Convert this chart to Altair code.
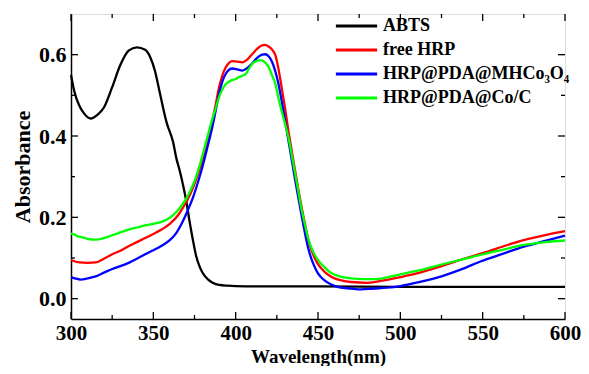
import altair as alt
import pandas as pd

# ---------------- data ----------------
abts_wl = [300, 302, 305, 308, 312, 316, 320, 325, 330, 335, 340, 345, 348, 351, 354,
           358, 362, 364, 366, 368, 370, 372, 374, 376, 378, 380, 383, 386, 390, 395,
           400, 420, 450, 500, 550, 600]
abts_a = [0.55, 0.51, 0.475, 0.455, 0.443, 0.452, 0.47, 0.52, 0.575, 0.61, 0.618, 0.612,
          0.595, 0.56, 0.505, 0.434, 0.385, 0.345, 0.315, 0.28, 0.24, 0.19, 0.145, 0.105,
          0.08, 0.063, 0.048, 0.039, 0.034, 0.032, 0.031, 0.03, 0.03, 0.029, 0.029, 0.029]

hrp_wl = [300, 305, 310, 315, 320, 325, 330, 335, 340, 345, 350, 355, 360, 365, 368, 371,
          374, 377, 380, 383, 386, 388, 390, 392, 394, 396, 398, 401, 404, 407, 410, 413,
          416, 418, 420, 422, 424, 426, 428, 430, 432, 434, 436, 438, 440, 442, 444, 446,
          448, 450, 454, 458, 463, 470, 480, 490, 500, 510, 525, 540, 550, 565, 575, 590, 600]
hrp_a = [0.095, 0.089, 0.088, 0.089, 0.098, 0.109, 0.118, 0.129, 0.139, 0.149, 0.159, 0.17,
         0.184, 0.205, 0.224, 0.245, 0.272, 0.305, 0.343, 0.39, 0.441, 0.48, 0.521, 0.55,
         0.569, 0.58, 0.584, 0.583, 0.581, 0.588, 0.601, 0.614, 0.623, 0.624, 0.62, 0.613,
         0.6, 0.565, 0.517, 0.468, 0.413, 0.365, 0.317, 0.27, 0.226, 0.185, 0.148, 0.12,
         0.1, 0.085, 0.066, 0.054, 0.046, 0.041, 0.039, 0.045, 0.053, 0.062, 0.08, 0.1,
         0.112, 0.132, 0.144, 0.158, 0.166]

mh_wl = [300, 303, 306, 310, 315, 320, 325, 330, 335, 340, 345, 350, 355, 360, 364, 368,
         371, 374, 377, 380, 383, 386, 388, 390, 392, 394, 396, 398, 401, 404, 407, 410,
         413, 416, 418, 420, 422, 424, 426, 428, 430, 432, 434, 436, 438, 440, 442, 444,
         446, 448, 450, 454, 458, 463, 470, 476, 484, 492, 500, 512, 525, 537, 549, 562,
         575, 588, 600]
mh_a = [0.053, 0.049, 0.047, 0.05, 0.055, 0.064, 0.073, 0.08, 0.088, 0.098, 0.109, 0.119,
        0.13, 0.144, 0.162, 0.191, 0.218, 0.248, 0.285, 0.327, 0.375, 0.425, 0.465, 0.505,
        0.535, 0.553, 0.563, 0.566, 0.564, 0.561, 0.567, 0.578, 0.592, 0.6, 0.601, 0.596,
        0.583, 0.56, 0.528, 0.485, 0.438, 0.39, 0.343, 0.295, 0.25, 0.205, 0.163, 0.125,
        0.098, 0.078, 0.062, 0.045, 0.035, 0.028, 0.025, 0.023, 0.025, 0.027, 0.031,
        0.041, 0.055, 0.072, 0.092, 0.11, 0.128, 0.142, 0.155]

coc_wl = [300, 302, 304, 307, 310, 315, 320, 325, 330, 335, 340, 345, 350, 355, 358, 361,
          364, 367, 370, 373, 376, 379, 382, 385, 388, 390, 392, 394, 396, 398, 400, 402,
          404, 406, 408, 410, 412, 414, 416, 418, 420, 422, 424, 426, 428, 430, 432, 434,
          436, 438, 440, 442, 444, 446, 448, 450, 454, 458, 463, 470, 478, 485, 500, 512,
          525, 537, 549, 562, 575, 588, 600]
coc_a = [0.16, 0.158, 0.153, 0.151, 0.147, 0.145, 0.149, 0.156, 0.163, 0.17, 0.175, 0.18,
         0.184, 0.189, 0.194, 0.202, 0.213, 0.228, 0.246, 0.27, 0.3, 0.34, 0.385, 0.43,
         0.47, 0.497, 0.515, 0.528, 0.534, 0.538, 0.54, 0.545, 0.548, 0.552, 0.565, 0.577,
         0.583, 0.586, 0.586, 0.58, 0.57, 0.55, 0.53, 0.493, 0.46, 0.43, 0.397, 0.355,
         0.31, 0.265, 0.22, 0.183, 0.148, 0.125, 0.108, 0.095, 0.077, 0.063, 0.055, 0.05,
         0.048, 0.048, 0.06, 0.07, 0.084, 0.096, 0.108, 0.12, 0.132, 0.139, 0.143]

series_names = ["ABTS", "free HRP", "HRP@PDA@MHCo\u2083O\u2084", "HRP@PDA@Co/C"]
series_colors = ["#000000", "#ff0000", "#0000ff", "#00ff00"]

x_major = [300, 350, 400, 450, 500, 550, 600]
x_minor = [325, 375, 425, 475, 525, 575]
y_major = [0.0, 0.2, 0.4, 0.6]
y_minor = [0.1, 0.3, 0.5]

# ---------------- assemble ----------------
frames = []
for name, wl, a in zip(series_names, [abts_wl, hrp_wl, mh_wl, coc_wl],
                       [abts_a, hrp_a, mh_a, coc_a]):
    frames.append(pd.DataFrame({"wl": wl, "A": a, "series": name}))
df = pd.concat(frames, ignore_index=True)

FONT = "Liberation Serif"

xscale = alt.Scale(domain=[300, 600], nice=False, zero=False)
yscale = alt.Scale(domain=[-0.05, 0.7], nice=False, zero=False)

xaxis = alt.Axis(values=x_major, title="Wavelength(nm)", tickSize=0, grid=False,
                 labelFont=FONT, labelFontSize=21, labelFontWeight="bold",
                 labelColor="black", labelPadding=3, titleFont=FONT, titleFontSize=19,
                 titleFontWeight="bold", titleColor="black", titlePadding=4,
                 domainColor="black", domainWidth=1.5, labelFlush=False)
yaxis = alt.Axis(values=y_major, format=".1f", title="Absorbance", tickSize=0, grid=False,
                 labelFont=FONT, labelFontSize=22, labelFontWeight="bold",
                 labelColor="black", labelPadding=5, titleFont=FONT, titleFontSize=22,
                 titleFontWeight="bold", titleColor="black", titlePadding=4,
                 domainColor="black", domainWidth=1.5, labelFlush=False)

X = alt.X("wl:Q", scale=xscale, axis=xaxis)
Y = alt.Y("A:Q", scale=yscale, axis=yaxis)

lines = alt.Chart(df).mark_line(strokeWidth=2.3, interpolate="monotone").encode(
    x=X, y=Y,
    color=alt.Color("series:N",
                    scale=alt.Scale(domain=series_names, range=series_colors),
                    sort=series_names,
                    legend=alt.Legend(orient="none", legendX=263, legendY=0, title=None,
                                      symbolType="stroke", symbolSize=1700,
                                      symbolStrokeWidth=3, clipHeight=24, rowPadding=0,
                                      labelFont=FONT, labelFontSize=18,
                                      labelFontWeight="bold", labelColor="black",
                                      labelLimit=400, labelOffset=4)),
)

xmaj = pd.DataFrame({"wl": x_major})
xmin = pd.DataFrame({"wl": x_minor})
ymaj = pd.DataFrame({"A": y_major})
ymin = pd.DataFrame({"A": y_minor})


def ev(e):
    return alt.value({"expr": e})


tick_style = dict(color="black", strokeWidth=1.3)
ticks = [
    alt.Chart(xmaj).mark_rule(**tick_style).encode(x=X, y=ev("height"), y2=ev("height - 7")),
    alt.Chart(xmaj).mark_rule(**tick_style).encode(x=X, y=alt.value(0), y2=alt.value(7)),
    alt.Chart(xmin).mark_rule(**tick_style).encode(x=X, y=ev("height"), y2=ev("height - 4")),
    alt.Chart(xmin).mark_rule(**tick_style).encode(x=X, y=alt.value(0), y2=alt.value(4)),
    alt.Chart(ymaj).mark_rule(**tick_style).encode(y=Y, x=alt.value(0), x2=alt.value(7)),
    alt.Chart(ymaj).mark_rule(**tick_style).encode(y=Y, x=ev("width"), x2=ev("width - 7")),
    alt.Chart(ymin).mark_rule(**tick_style).encode(y=Y, x=alt.value(0), x2=alt.value(4)),
    alt.Chart(ymin).mark_rule(**tick_style).encode(y=Y, x=ev("width"), x2=ev("width - 4")),
]

chart = alt.layer(lines, *ticks).properties(
    width=573, height=358,
    autosize=alt.AutoSizeParams(type="fit", contains="padding"),
    padding={"left": 3, "top": 5, "right": 0, "bottom": 0},
).configure_view(stroke="black", strokeWidth=1.5).configure(background="white")

chart.save("out.html", embed_options={"renderer": "svg", "actions": False})
